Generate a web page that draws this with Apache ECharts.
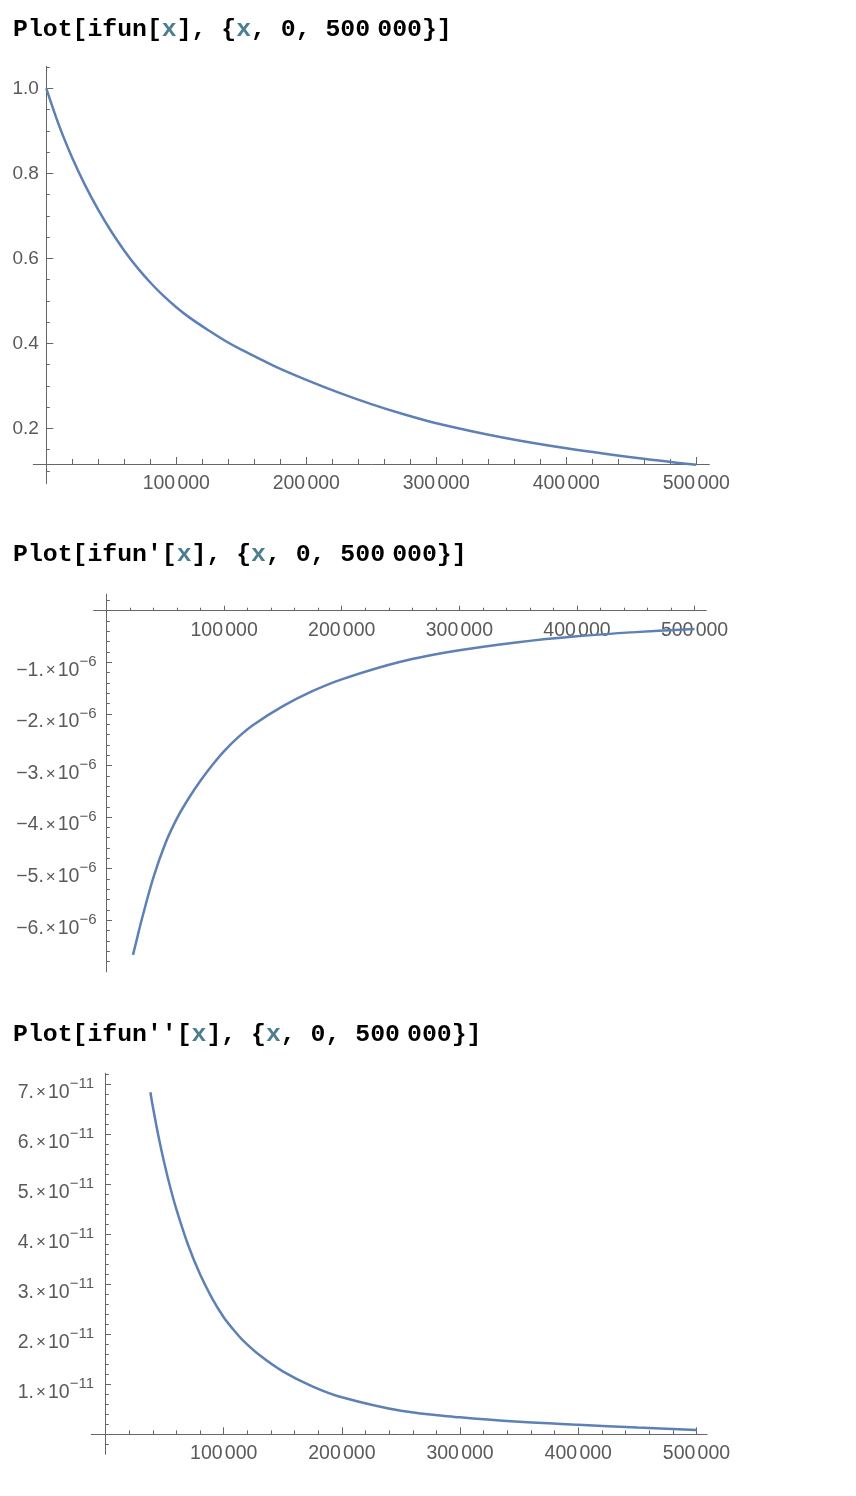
<!DOCTYPE html>
<html>
<head>
<meta charset="utf-8">
<script src="https://cdn.jsdelivr.net/npm/echarts@6/dist/echarts.min.js"></script>
<style>
html,body{margin:0;padding:0;background:#ffffff;}
#chart{width:856px;height:1496px;}
</style>
</head>
<body>
<div id="chart"></div>
<script>
// ---------------- DATA ----------------
// Plot 1: ifun[x]
const x1 = [0, 10000, 20000, 30000, 40000, 50000, 60000, 70000, 80000, 90000, 100000, 110000,
            125000, 137500, 150000, 175000, 200000, 225000, 250000, 275000, 300000, 350000, 400000, 450000, 500000];
const ifunValues = [1.000, 0.911, 0.836, 0.771, 0.714, 0.663, 0.618, 0.578, 0.543, 0.512, 0.485, 0.461,
                    0.430, 0.406, 0.385, 0.347, 0.314, 0.284, 0.257, 0.233, 0.212, 0.179, 0.153, 0.132, 0.114];

// Plot 2: ifun'[x]  (values in units of 10^-6)
const x2 = [22500, 25000, 30000, 40000, 50000, 60000, 70000, 80000, 90000, 100000, 112500,
            125000, 150000, 175000, 200000, 250000, 300000, 350000, 400000, 450000, 500000];
const ifunD1Values = [-6.67, -6.44, -5.98, -5.16, -4.51, -4.02, -3.63, -3.29, -2.99, -2.72, -2.44,
                      -2.21, -1.85, -1.56, -1.33, -0.99, -0.768, -0.61, -0.495, -0.415, -0.355];

// Plot 3: ifun''[x]  (values in units of 10^-11)
const x3 = [38000, 40000, 45000, 50000, 55000, 60000, 70000, 80000, 90000, 100000, 108000,
            115000, 130000, 150000, 175000, 200000, 250000, 300000, 350000, 400000, 450000, 500000];
const ifunD2Values = [6.84, 6.56, 5.94, 5.40, 4.92, 4.50, 3.78, 3.20, 2.73, 2.34, 2.10,
                      1.91, 1.59, 1.26, 0.96, 0.74, 0.47, 0.34, 0.25, 0.19, 0.135, 0.086];

// Tick values and labels
const xTickValues = [100000, 200000, 300000, 400000, 500000];
const xTickLabels = ['100 000', '200 000', '300 000', '400 000', '500 000'];
const xMinorTicks = [20000, 40000, 60000, 80000, 120000, 140000, 160000, 180000, 220000, 240000,
                     260000, 280000, 320000, 340000, 360000, 380000, 420000, 440000, 460000, 480000];

const y1TickValues = [0.2, 0.4, 0.6, 0.8, 1.0];
const y1TickLabels = ['0.2', '0.4', '0.6', '0.8', '1.0'];
const y1MinorTicks = [0.10, 0.15, 0.25, 0.30, 0.35, 0.45, 0.50, 0.55, 0.65, 0.70, 0.75, 0.85, 0.90, 0.95, 1.05];

const y2TickValues = [-6, -5, -4, -3, -2, -1];           // ×10^-6
const y2TickMantissas = ['\u22126.', '\u22125.', '\u22124.', '\u22123.', '\u22122.', '\u22121.'];
const y2Exponent = '\u22126';
const y2MinorTicks = [-6.8, -6.6, -6.4, -6.2, -5.8, -5.6, -5.4, -5.2, -4.8, -4.6, -4.4, -4.2,
                      -3.8, -3.6, -3.4, -3.2, -2.8, -2.6, -2.4, -2.2, -1.8, -1.6, -1.4, -1.2,
                      -0.8, -0.6, -0.4, -0.2, 0.2];

const y3TickValues = [1, 2, 3, 4, 5, 6, 7];               // ×10^-11
const y3TickMantissas = ['1.', '2.', '3.', '4.', '5.', '6.', '7.'];
const y3Exponent = '\u221211';
const y3MinorTicks = [-0.2, 0.2, 0.4, 0.6, 0.8, 1.2, 1.4, 1.6, 1.8, 2.2, 2.4, 2.6, 2.8,
                      3.2, 3.4, 3.6, 3.8, 4.2, 4.4, 4.6, 4.8, 5.2, 5.4, 5.6, 5.8,
                      6.2, 6.4, 6.6, 6.8, 7.2];

const headings = ["Plot[ifun[{x|x}], {{x|x}, 0, 500{g| }000}]",
                  "Plot[ifun'[{x|x}], {{x|x}, 0, 500{g| }000}]",
                  "Plot[ifun''[{x|x}], {{x|x}, 0, 500{g| }000}]"];

// ---------------- STYLE ----------------
const AX = '#666666';
const LBL = '#5a5a5a';
const CURVE = '#5e81b5';
const SANS = '"Liberation Sans", Arial, Helvetica, sans-serif';
const MONO = '"Liberation Mono", "DejaVu Sans Mono", monospace';

function idxOf(arr, v) {
  for (let i = 0; i < arr.length; i++) if (Math.abs(arr[i] - v) < 1e-9) return i;
  return -1;
}

const xLabelRich = {
  n: { fontSize: 19.5, fontFamily: SANS, color: LBL },
  t: { fontSize: 8, fontFamily: SANS, color: LBL }
};
function xFormatter(v) {
  const i = idxOf(xTickValues, v);
  if (i < 0) return '';
  const parts = xTickLabels[i].split(' ');
  return '{n|' + parts[0] + '}{t| }{n|' + parts[1] + '}';
}
// every token gets the same total height (28) so the superscript position is fixed by padding
const sciRich = {
  b: { fontSize: 19.5, lineHeight: 20, padding: [8, 0, 0, 0], verticalAlign: 'top', fontFamily: SANS, color: LBL },
  m: { fontSize: 17, lineHeight: 17, padding: [10, 2, 1, 2], verticalAlign: 'top', fontFamily: SANS, color: LBL },
  s: { fontSize: 15, lineHeight: 15, padding: [2, 0, 11, 0], verticalAlign: 'top', fontFamily: SANS, color: LBL }
};
function sciFormatter(values, mantissas, exponent) {
  return function (v) {
    const i = idxOf(values, v);
    if (i < 0) return '';
    return '{b|' + mantissas[i] + '}{m|\u00d7}{b|10}{s|' + exponent + '}';
  };
}

// plot layout (pixel geometry of each panel)
const panels = [
  { grid: { left: 33.3, top: 66.2, width: 676, height: 417.35 },
    xMin: -10000, xMax: 510000, yMin: 0.07, yMax: 1.052, xCross: 0.116,
    xMajorLen: 7, xMinorLen: 5, yMajorLen: 7, yMinorLen: 3.5, yMargin: 7.5,
    yTicks: y1TickValues, yMinor: y1MinorTicks,
    yFormatter: function (v) { const i = idxOf(y1TickValues, v); return i < 0 ? '' : '{b|' + y1TickLabels[i] + '}'; },
    yRich: { b: { fontSize: 19, fontFamily: SANS, color: LBL } },
    xs: x1, ys: ifunValues },
  { grid: { left: 93.6, top: 594.2, width: 612.7, height: 377.7 },
    xMin: -11000, xMax: 510000, yMin: -7.0, yMax: 0.32, xCross: 0,
    xMajorLen: 5, xMinorLen: 3, yMajorLen: 5.5, yMinorLen: 3.3, yMargin: 10,
    yTicks: y2TickValues, yMinor: y2MinorTicks,
    yFormatter: sciFormatter(y2TickValues, y2TickMantissas, y2Exponent),
    yRich: sciRich,
    xs: x2, ys: ifunD1Values },
  { grid: { left: 91.3, top: 1073.3, width: 615.8, height: 381 },
    xMin: -12000, xMax: 509000, yMin: -0.4, yMax: 7.22, xCross: 0,
    xMajorLen: 7, xMinorLen: 4, yMajorLen: 5.5, yMinorLen: 3.3, yMargin: 11.5,
    yTicks: y3TickValues, yMinor: y3MinorTicks,
    yFormatter: sciFormatter(y3TickValues, y3TickMantissas, y3Exponent),
    yRich: sciRich,
    xs: x3, ys: ifunD2Values }
];

const titleTops = [17.5, 542.5, 1022.5];

const option = {
  animation: false,
  backgroundColor: '#ffffff',
  title: headings.map(function (h, i) {
    return {
      text: h, left: 13, top: titleTops[i], padding: 0,
      textStyle: {
        fontFamily: MONO, fontWeight: 'bold', fontSize: 24.8, color: '#000000',
        rich: {
          x: { fontFamily: MONO, fontWeight: 'bold', fontSize: 24.8, color: '#4d7e90' },
          g: { fontFamily: MONO, fontWeight: 'bold', fontSize: 12, color: '#000000' }
        }
      }
    };
  }),
  grid: panels.map(function (p) {
    return Object.assign({ containLabel: false, outerBoundsMode: 'none' }, p.grid);
  }),
  xAxis: [],
  yAxis: [],
  series: []
};

panels.forEach(function (p, g) {
  const xi = 2 * g, yi = 2 * g;
  // axes cross at x = 0 and y = xCross: shift them into the grid through the scales
  const pxPerX = p.grid.width / (p.xMax - p.xMin);
  const pxPerY = p.grid.height / (p.yMax - p.yMin);
  const xOffset = -(p.xCross - p.yMin) * pxPerY;
  const yOffset = -(0 - p.xMin) * pxPerX;
  // major x axis (line, major ticks, labels)
  option.xAxis.push({
    type: 'value', gridIndex: g, min: p.xMin, max: p.xMax, position: 'bottom', offset: xOffset,
    axisLine: { show: true, onZero: false, lineStyle: { color: AX, width: 1 } },
    axisTick: { show: true, inside: true, length: p.xMajorLen, customValues: xTickValues,
                lineStyle: { color: AX, width: 1 } },
    axisLabel: { show: true, customValues: xTickValues, margin: 9.5, formatter: xFormatter,
                 rich: xLabelRich, color: LBL, fontSize: 19.5, fontFamily: SANS },
    splitLine: { show: false }
  });
  // minor x ticks
  option.xAxis.push({
    type: 'value', gridIndex: g, min: p.xMin, max: p.xMax, position: 'bottom', offset: xOffset,
    axisLine: { show: false, onZero: false },
    axisTick: { show: true, inside: true, length: p.xMinorLen, customValues: xMinorTicks,
                lineStyle: { color: AX, width: 1 } },
    axisLabel: { show: false },
    splitLine: { show: false }
  });
  // major y axis
  option.yAxis.push({
    type: 'value', gridIndex: g, min: p.yMin, max: p.yMax, position: 'left', offset: yOffset,
    axisLine: { show: true, onZero: false, lineStyle: { color: AX, width: 1 } },
    axisTick: { show: true, inside: true, length: p.yMajorLen, customValues: p.yTicks,
                lineStyle: { color: AX, width: 1 } },
    axisLabel: { show: true, customValues: p.yTicks, margin: p.yMargin, formatter: p.yFormatter,
                 rich: p.yRich, color: LBL, fontSize: 19, fontFamily: SANS },
    splitLine: { show: false }
  });
  // minor y ticks
  option.yAxis.push({
    type: 'value', gridIndex: g, min: p.yMin, max: p.yMax, position: 'left', offset: yOffset,
    axisLine: { show: false, onZero: false },
    axisTick: { show: true, inside: true, length: p.yMinorLen, customValues: p.yMinor,
                lineStyle: { color: AX, width: 1 } },
    axisLabel: { show: false },
    splitLine: { show: false }
  });
  option.series.push({
    type: 'line', xAxisIndex: xi, yAxisIndex: yi,
    data: p.xs.map(function (x, i) { return [x, p.ys[i]]; }),
    showSymbol: false, symbol: 'none', smooth: 0.35, clip: false,
    lineStyle: { color: CURVE, width: 2.5 },
    z: 1
  });
});

const chart = echarts.init(document.getElementById('chart'), null, { renderer: 'canvas' });
chart.setOption(option);
</script>
</body>
</html>
